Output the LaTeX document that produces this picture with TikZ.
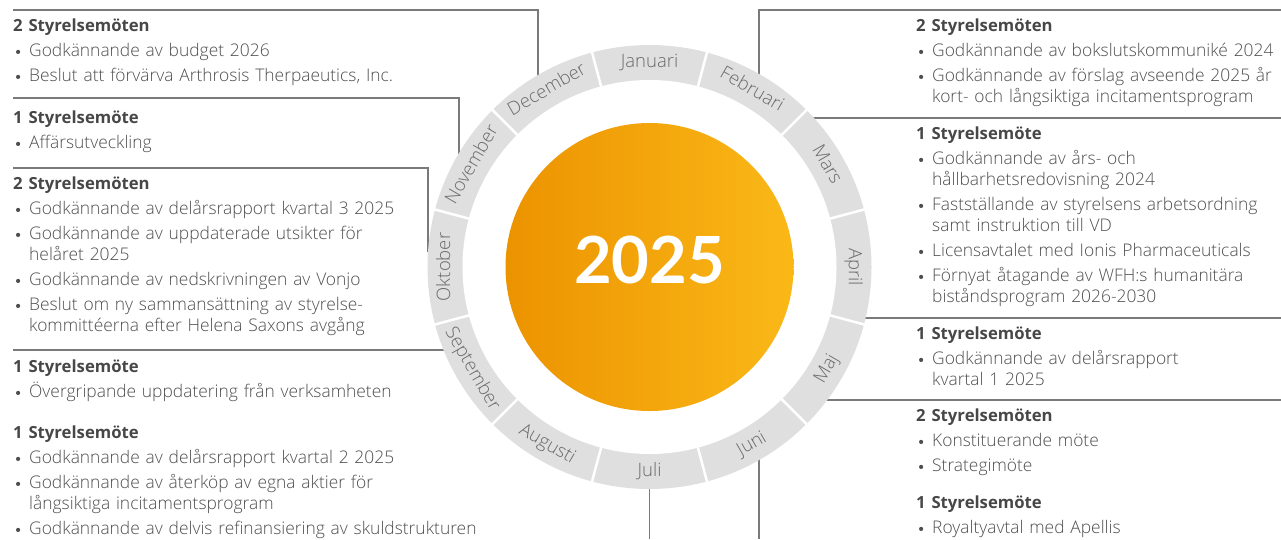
\documentclass[tikz,border=0pt]{standalone}
\usepackage{fontspec}
\setmainfont{Open Sans}[UprightFont=* Light, BoldFont=* Bold]
\newfontfamily\yearfont{Lato}
\usetikzlibrary{calc}
\definecolor{txt}{HTML}{4E4E4E}
\definecolor{hdc}{HTML}{474747}
\definecolor{ringc}{HTML}{DFDFDF}
\definecolor{mon}{HTML}{6A6A6A}
\definecolor{lnc}{HTML}{7A7A7A}
\definecolor{orL}{HTML}{EC9300}
\definecolor{orR}{HTML}{FAB817}
\newcommand\hd[1]{\noindent\mbox{\fontsize{16.7}{21}\selectfont\bfseries\color{hdc}#1}\par}
\newcommand\bdot{\raisebox{2.5pt}{\tikz\fill[txt] (0pt,0pt) circle (2.1pt);}}
\newcommand\bl[1]{\vspace{4pt}\noindent\mbox{\makebox[16pt][l]{\hspace{2.8pt}\bdot}#1}\par}
\newcommand\cl[1]{\noindent\mbox{\hspace*{16pt}#1}\par}
\tikzset{
  blk/.style={inner sep=0pt, align=left, anchor=base west,
    font=\fontsize{17.4}{21}\selectfont, text=txt},
  lblk/.style={blk, text width=460pt},
  rblk/.style={blk, text width=360pt},
  conn/.style={draw=lnc, line width=1.2pt},
  mlab/.style={anchor=mid, inner sep=0pt, text=mon, font=\fontsize{18.5}{20}\selectfont},
  sep/.style={draw=white, line width=2.5pt}
}
\begin{document}
\begin{tikzpicture}[x=1pt,y=-1pt]
\useasboundingbox (0,0) rectangle (1281,539);
% connector coordinates
\coordinate (cDec) at (538,76);
\coordinate (aDec) at (13,10);
\coordinate (cNov) at (459,154);
\coordinate (aNov) at (13,98);
\coordinate (cOkt) at (428,252);
\coordinate (aOkt) at (13,168);
\coordinate (cSep) at (446,350);
\coordinate (aSep) at (13,350);
\coordinate (cJul) at (649.5,488);
\coordinate (aJul) at (649.5,539);
\coordinate (cFeb) at (759,76);
\coordinate (aFeb) at (1281,10);
\coordinate (cMar) at (813,118);
\coordinate (aMar) at (1281,118);
\coordinate (cApr) at (864,318);
\coordinate (aApr) at (1281,318);
\coordinate (cMaj) at (826,400);
\coordinate (aMaj) at (1281,400);
\coordinate (cJun) at (759,459);
\coordinate (aJun) at (759,539);
\draw[conn] (cDec) |- (aDec);
\draw[conn] (cNov) |- (aNov);
\draw[conn] (cOkt) |- (aOkt);
\draw[conn] (cSep) -- (aSep);
\draw[conn] (cJul) -- (aJul);
\draw[conn] (cFeb) |- (aFeb);
\draw[conn] (cMar) -- (aMar);
\draw[conn] (cApr) -- (aApr);
\draw[conn] (cMaj) -- (aMaj);
\draw[conn] (cJun) -- (aJun);
% wheel
\begin{scope}[shift={(649.5,267)}]
  \fill[ringc] (0,0) circle (222pt);
  \fill[white] (0,0) circle (187pt);
  \foreach \a in {75,45,15,-15,-45,-75,-105,-135,-165,-195,-225,-255}
    \draw[sep] (\a:184pt) -- (\a:225pt);
  \foreach \m/\a/\r/\d in {Januari/90/0/202, Februari/60/-30/202, Mars/30/-60/202, April/0/-90/202,
      Maj/-30/60/207, Juni/-60/30/207, Juli/-90/0/207, Augusti/-120/-30/207, September/-150/-60/207,
      Oktober/180/90/202, November/150/60/202, December/120/30/202}
    \node[mlab, rotate=\r] (m\m) at (\a:\d pt) {\m};
  \node[circle, inner sep=0pt, minimum size=288pt, left color=orL, right color=orR] (sun) at (0,0) {};
  \node[anchor=base, inner sep=0pt, text=white, font=\yearfont\fontsize{65}{65}\selectfont\bfseries] (yr) at (0pt,-16pt) {2025};
\end{scope}
% left blocks
\node[lblk] (tDec) at (13,31.5) {\hd{2 Styrelsemöten}\bl{Godkännande av budget 2026}\bl{Beslut att förvärva Arthrosis Therpaeutics, Inc.}};
\node[lblk] (tNov) at (13,123.5) {\hd{1 Styrelsemöte}\bl{Affärsutveckling}};
\node[lblk] (tOkt) at (13,189.5) {\hd{2 Styrelsemöten}\bl{Godkännande av delårsrapport kvartal 3 2025}\bl{Godkännande av uppdaterade utsikter för}\cl{helåret 2025}\bl{Godkännande av nedskrivningen av Vonjo}\bl{Beslut om ny sammansättning av styrelse-}\cl{kommittéerna efter Helena Saxons avgång}};
\node[lblk] (tSep) at (13,372.5) {\hd{1 Styrelsemöte}\bl{Övergripande uppdatering från verksamheten}};
\node[lblk] (tJul) at (13,438.5) {\hd{1 Styrelsemöte}\bl{Godkännande av delårsrapport kvartal 2 2025}\bl{Godkännande av återköp av egna aktier för}\cl{långsiktiga incitamentsprogram}\bl{Godkännande av delvis refinansiering av skuldstrukturen}};
% right blocks
\node[rblk] (tFeb) at (916,31.5) {\hd{2 Styrelsemöten}\bl{Godkännande av bokslutskommuniké 2024}\bl{Godkännande av förslag avseende 2025 år}\cl{kort- och långsiktiga incitamentsprogram}};
\node[rblk] (tMar) at (916,139.5) {\hd{1 Styrelsemöte}\bl{Godkännande av års- och}\cl{hållbarhetsredovisning 2024}\bl{Fastställande av styrelsens arbetsordning}\cl{samt instruktion till VD}\bl{Licensavtalet med Ionis Pharmaceuticals}\bl{Förnyat åtagande av WFH:s humanitära}\cl{biståndsprogram 2026-2030}};
\node[rblk] (tMaj) at (916,339.5) {\hd{1 Styrelsemöte}\bl{Godkännande av delårsrapport}\cl{kvartal 1 2025}};
\node[rblk] (tJun) at (916,421.5) {\hd{2 Styrelsemöten}\bl{Konstituerande möte}\bl{Strategimöte}};
\node[rblk] (tJun2) at (916,508.5) {\hd{1 Styrelsemöte}\bl{Royaltyavtal med Apellis}};
\end{tikzpicture}
\end{document}
